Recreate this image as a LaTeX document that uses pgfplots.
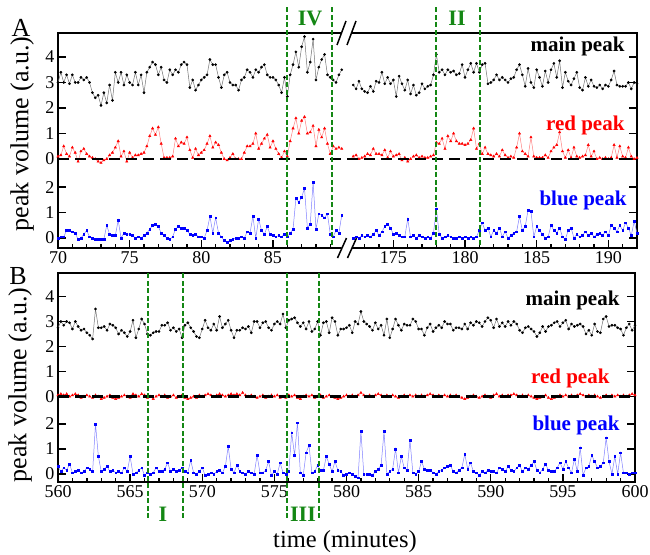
\documentclass[border=0pt]{standalone}
\usepackage{fontspec}
\setmainfont{Liberation Serif}
\usepackage{pgfplots}
\usepackage{pgfplotstable}
\pgfplotsset{compat=1.18}
\definecolor{mygreen}{RGB}{20,135,20}

% t = time (min), m = main peak, r = red peak, b = blue peak
\pgfplotstableread{
t m r b
70.0 3.0 0.1 0.0
70.2 3.4 0.15 0.05
70.4 3.0 0.5 0.05
70.6 3.3 0.2 0.3
70.8 2.95 0.1 0.3
71.0 3.3 0.45 0.25
71.2 3.0 0.25 0.2
71.4 3.0 -0.1 -0.05
71.6 3.2 0.3 0.0
71.8 3.1 0.4 0.15
72.0 3.2 0.2 0.3
72.2 3.0 0.1 0.05
72.4 2.6 0.05 0.0
72.6 2.4 0.0 -0.05
72.8 2.5 -0.1 -0.05
73.0 2.1 -0.15 -0.05
73.2 2.6 -0.05 -0.05
73.4 2.2 0.0 0.5
73.6 2.9 0.15 0.15
73.8 2.3 0.25 0.1
74.0 3.4 0.45 0.1
74.2 3.0 0.7 0.7
74.4 3.4 0.1 0.0
74.6 2.9 0.3 0.2
74.8 3.3 -0.1 0.15
75.0 3.0 0.25 0.15
75.2 2.9 0.05 0.1
75.4 3.4 0.15 0.0
75.6 2.9 0.15 0.05
75.8 3.3 0.2 0.0
76.0 2.6 0.25 0.1
76.2 3.4 0.5 0.2
76.4 3.6 0.9 0.35
76.6 3.8 1.2 0.5
76.8 3.7 0.95 0.55
77.0 3.3 1.25 0.45
77.2 3.6 0.6 0.2
77.4 3.1 0.05 0.1
77.6 3.0 0.05 0.0
77.8 3.5 0.05 -0.05
78.0 3.3 0.1 0.05
78.2 3.5 0.8 0.35
78.4 3.4 0.5 0.45
78.6 3.7 0.65 0.4
78.8 3.8 0.6 0.4
79.0 3.7 0.85 0.3
79.2 2.8 0.35 0.15
79.4 3.1 0.05 0.1
79.6 2.7 0.4 0.15
79.8 2.9 0.15 0.05
80.0 3.1 0.25 0.05
80.2 3.2 0.35 0.0
80.4 3.3 0.6 0.3
80.6 3.9 0.9 0.85
80.8 3.7 0.45 0.2
81.0 3.7 0.65 0.8
81.2 3.2 0.55 0.2
81.4 2.8 0.25 0.05
81.6 3.3 0.0 -0.1
81.8 3.4 -0.05 -0.15
82.0 3.0 0.05 -0.1
82.2 2.9 0.2 -0.05
82.4 2.9 0.0 0.0
82.6 2.7 0.0 0.0
82.8 3.1 0.0 0.05
83.0 3.2 0.25 0.0
83.2 3.5 0.5 0.25
83.4 3.4 0.5 0.2
83.6 3.2 0.6 0.85
83.8 3.5 1.0 0.0
84.0 3.4 0.4 0.75
84.2 3.6 0.6 0.3
84.4 3.7 0.8 0.15
84.6 3.3 0.95 0.45
84.8 3.2 0.45 0.15
85.0 3.2 0.7 0.1
85.2 3.1 0.4 0.05
85.4 2.9 0.2 0.1
85.6 2.6 0.05 0.05
85.8 3.2 0.3 0.15
86.0 2.45 0.1 0.05
86.2 3.3 0.7 0.2
86.4 3.7 1.2 0.35
86.6 4.2 1.6 1.55
86.8 3.6 1.0 1.4
87.0 4.4 1.5 1.6
87.2 4.8 1.65 1.95
87.4 3.4 1.0 0.4
87.6 3.8 1.05 0.55
87.8 4.7 1.3 2.2
88.0 3.1 0.5 0.35
88.2 3.6 1.15 0.95
88.4 3.9 0.85 0.9
88.6 4.1 1.2 0.8
88.8 3.3 0.6 0.95
89.0 3.2 0.2 0.15
89.2 3.1 0.5 0.05
89.4 3.0 0.4 0.3
89.6 3.3 0.45 0.2
89.8 3.5 0.4 0.9
}\tabAleft

\pgfplotstableread{
t m r b
172.2 2.9 0.1 0.0
172.4 2.75 0.15 0.05
172.6 3.05 0.0 0.0
172.8 2.75 0.05 0.1
173.0 2.65 0.1 0.05
173.2 2.6 0.2 0.1
173.4 2.85 0.15 0.05
173.6 2.65 0.4 0.15
173.8 3.05 0.2 0.3
174.0 3.0 0.2 0.1
174.2 3.4 0.15 0.25
174.4 2.95 0.35 0.45
174.6 3.2 0.05 0.55
174.8 2.95 0.3 0.4
175.0 3.1 0.1 0.15
175.2 2.45 0.15 0.2
175.4 3.25 0.2 0.1
175.6 2.95 -0.05 0.05
175.8 2.7 0.05 0.05
176.0 3.1 -0.1 0.75
176.2 2.55 0.0 0.05
176.4 2.9 0.1 0.1
176.6 2.5 0.15 0.0
176.8 2.6 0.05 0.1
177.0 2.95 0.1 0.05
177.2 2.75 0.05 0.0
177.4 2.85 0.05 0.05
177.6 2.9 0.1 0.0
177.8 3.3 0.15 0.2
178.0 4.1 0.65 1.15
178.2 3.4 0.6 0.15
178.4 3.5 0.8 0.0
178.6 3.3 0.4 0.05
178.8 3.5 0.9 0.1
179.0 3.4 0.7 0.05
179.2 3.45 1.0 0.0
179.4 3.3 0.7 0.0
179.6 3.35 0.6 0.05
179.8 3.7 0.6 0.0
180.0 3.2 0.55 0.05
180.2 3.5 0.6 0.0
180.4 3.75 0.75 0.05
180.6 3.4 1.2 0.0
180.8 3.75 0.4 0.05
181.0 3.4 0.6 0.3
181.2 3.7 0.2 0.6
181.4 3.75 0.45 0.3
181.6 2.95 0.2 0.4
181.8 3.0 0.15 0.05
182.0 3.1 0.1 0.3
182.2 3.3 0.2 0.2
182.4 3.1 0.1 0.4
182.6 3.2 0.35 0.05
182.8 3.1 0.15 0.25
183.0 3.0 0.05 0.0
183.2 3.15 0.1 0.1
183.4 3.2 0.05 0.2
183.6 3.5 0.45 0.25
183.8 3.7 1.0 0.85
184.0 3.3 0.3 0.3
184.2 2.85 0.2 0.45
184.4 3.55 0.1 1.1
184.6 3.0 0.85 1.05
184.8 2.8 0.1 0.05
185.0 3.5 0.05 0.45
185.2 3.2 0.05 0.3
185.4 2.85 0.05 0.15
185.6 3.45 0.15 0.0
185.8 3.0 0.05 0.05
186.0 3.5 0.3 0.5
186.2 3.75 0.45 0.3
186.4 3.2 0.55 0.2
186.6 3.85 1.05 0.4
186.8 2.8 0.3 0.05
187.0 3.4 0.05 -0.05
187.2 3.05 0.35 0.3
187.4 2.9 0.05 0.4
187.6 3.15 0.45 0.0
187.8 3.4 0.1 0.15
188.0 2.8 0.05 0.05
188.2 2.7 0.1 0.1
188.4 3.2 0.15 0.25
188.6 2.85 0.55 0.1
188.8 3.1 0.1 0.2
189.0 2.85 0.3 0.05
189.2 2.8 0.0 0.15
189.4 2.9 0.05 0.2
189.6 2.75 0.0 0.1
189.8 2.9 0.05 0.25
190.0 2.85 0.0 0.1
190.2 3.1 0.05 0.5
190.4 3.45 0.55 0.4
190.6 2.9 0.05 0.25
190.8 2.85 0.5 0.5
191.0 2.85 0.1 0.3
191.2 2.85 0.05 0.6
191.4 3.0 0.45 0.4
191.6 2.75 0.1 0.1
191.8 3.0 0.0 0.65
192.0 2.95 0.05 0.2
}\tabAright

\pgfplotstableread{
t m r b
560.0 2.75 0.05 0.3
560.2 3.0 0.1 0.1
560.4 2.85 0.05 0.25
560.6 3.0 0.1 0.15
560.8 2.95 0.0 0.4
561.0 2.7 0.05 0.05
561.2 3.0 0.1 0.1
561.4 2.8 0.05 0.15
561.6 2.65 -0.05 0.05
561.8 2.7 0.0 0.1
562.0 2.55 0.05 0.25
562.2 2.45 0.0 0.2
562.4 2.3 -0.05 0.1
562.6 3.5 0.05 2.0
562.8 2.75 0.0 0.7
563.0 2.75 -0.1 0.1
563.2 2.8 -0.05 0.2
563.4 2.65 0.0 0.3
563.6 2.9 0.05 0.1
563.8 2.85 -0.05 0.15
564.0 2.75 -0.1 0.05
564.2 2.5 -0.05 0.1
564.4 2.65 0.0 0.05
564.6 2.55 0.05 0.25
564.8 2.4 0.0 0.1
565.0 2.6 -0.05 0.7
565.2 3.05 0.1 0.0
565.4 2.35 0.05 0.05
565.6 2.7 0.0 0.15
565.8 3.1 0.1 0.25
566.0 2.9 0.05 -0.05
566.2 2.5 -0.05 0.05
566.4 2.45 0.0 0.0
566.6 2.55 -0.1 0.05
566.8 2.6 0.0 0.25
567.0 2.6 0.05 0.1
567.2 2.85 0.0 0.1
567.4 2.85 0.05 0.2
567.6 2.95 -0.05 0.45
567.8 2.65 0.0 0.1
568.0 2.75 0.05 0.2
568.2 2.6 -0.05 0.1
568.4 2.7 0.0 0.15
568.6 2.35 0.05 0.25
568.8 2.85 -0.05 0.1
569.0 2.95 -0.1 0.05
569.2 2.75 -0.05 0.55
569.4 2.6 0.0 0.05
569.6 2.4 -0.05 0.0
569.8 2.35 0.05 0.1
570.0 2.7 0.0 0.25
570.2 3.05 0.05 -0.05
570.4 2.75 0.1 0.0
570.6 2.65 0.05 0.05
570.8 2.9 0.0 0.0
571.0 2.65 0.05 0.1
571.2 3.2 0.1 0.15
571.4 2.75 0.05 0.05
571.6 2.9 0.0 0.3
571.8 3.05 0.05 1.1
572.0 2.65 0.1 0.2
572.2 2.35 0.05 0.05
572.4 2.65 0.1 0.35
572.6 2.65 0.05 0.1
572.8 2.75 0.15 0.05
573.0 2.7 0.05 0.0
573.2 2.8 0.0 0.1
573.4 2.55 0.05 0.05
573.6 3.0 0.0 0.0
573.8 3.0 -0.05 0.75
574.0 2.75 0.0 0.05
574.2 2.95 0.05 0.05
574.4 3.0 -0.05 0.15
574.6 2.75 0.0 0.5
574.8 2.65 0.05 -0.05
575.0 2.9 0.0 0.1
575.2 3.0 0.05 0.0
575.4 2.9 -0.05 0.45
575.6 3.3 0.0 0.05
575.8 2.75 -0.05 0.0
576.0 3.05 0.05 0.1
576.2 3.1 0.0 1.65
576.4 3.15 0.05 0.75
576.6 2.95 -0.05 2.05
576.8 2.8 -0.1 0.05
577.0 2.95 0.0 -0.05
577.2 2.7 0.05 0.85
577.4 3.0 0.0 1.15
577.6 2.6 0.05 0.05
577.8 2.7 -0.05 0.1
578.0 3.0 0.0 0.35
578.2 2.45 0.05 0.15
578.4 2.95 -0.05 0.15
578.6 3.0 0.0 0.7
578.8 2.55 0.05 0.4
579.0 3.15 0.0 0.1
579.2 3.0 -0.05 0.5
579.4 2.45 -0.1 0.15
579.6 2.7 -0.05 0.1
579.8 2.7 0.0 -0.05
580.0 2.75 0.05 0.0
580.2 2.85 0.0 0.05
580.4 2.55 0.05 0.0
580.6 3.0 0.0 -0.1
580.8 2.9 0.05 -0.15
581.0 3.4 0.15 1.7
581.2 3.0 0.05 0.0
581.4 2.9 0.0 0.0
581.6 2.8 0.05 0.0
581.8 2.65 0.0 -0.05
582.0 2.95 0.05 0.1
582.2 2.7 0.1 0.2
582.4 2.85 0.05 0.35
582.6 2.45 0.0 1.7
582.8 3.1 0.05 0.0
583.0 2.35 0.0 0.1
583.2 2.7 0.05 0.2
583.4 3.1 0.0 1.0
583.6 2.85 -0.05 0.05
583.8 2.65 0.0 0.7
584.0 2.9 0.05 0.25
584.2 2.85 0.0 0.15
584.4 2.85 0.05 1.35
584.6 3.1 0.0 0.05
584.8 3.0 0.05 0.0
585.0 2.7 0.0 0.1
585.2 2.7 0.05 0.5
585.4 2.45 0.0 0.2
585.6 2.75 0.05 0.15
585.8 2.9 0.1 0.15
586.0 2.6 0.05 0.05
586.2 2.75 0.0 0.0
586.4 2.85 0.05 0.1
586.6 2.75 0.0 0.15
586.8 3.0 0.05 0.25
587.0 2.9 0.0 0.3
587.2 2.9 0.05 0.35
587.4 2.65 0.0 0.1
587.6 2.75 0.05 0.05
587.8 2.75 0.0 0.15
588.0 2.7 -0.05 0.25
588.2 2.9 -0.1 0.8
588.4 2.7 -0.05 0.2
588.6 2.95 0.0 0.45
588.8 2.85 0.05 0.1
589.0 3.0 0.0 0.05
589.2 2.95 -0.05 -0.05
589.4 2.8 0.0 0.1
589.6 3.0 0.05 0.05
589.8 3.15 0.0 0.15
590.0 3.05 -0.05 0.1
590.2 2.75 0.05 0.1
590.4 3.1 0.1 0.05
590.6 2.8 0.0 0.25
590.8 2.95 0.05 0.2
591.0 2.8 0.0 0.1
591.2 3.0 0.05 0.3
591.4 2.85 0.05 0.15
591.6 3.0 0.1 0.1
591.8 2.9 0.05 0.25
592.0 2.65 0.0 0.35
592.2 2.55 0.05 0.1
592.4 2.75 0.0 0.25
592.6 2.8 0.05 0.2
592.8 2.7 0.0 0.35
593.0 2.6 -0.05 0.5
593.2 2.4 -0.1 0.15
593.4 2.55 -0.05 0.05
593.6 2.8 0.0 0.2
593.8 2.6 0.05 0.4
594.0 2.8 -0.05 0.15
594.2 2.85 -0.1 0.1
594.4 2.95 -0.05 0.1
594.6 3.0 0.0 0.25
594.8 2.8 0.05 0.45
595.0 2.95 0.0 0.2
595.2 3.05 0.05 0.5
595.4 2.7 0.0 0.25
595.6 2.9 0.05 0.05
595.8 2.8 0.0 0.6
596.0 2.85 0.05 0.1
596.2 2.9 0.1 1.05
596.4 2.8 0.05 -0.05
596.6 2.5 0.0 0.25
596.8 2.65 0.05 0.3
597.0 2.45 0.0 0.75
597.2 2.9 0.05 0.5
597.4 2.6 0.0 0.25
597.6 2.55 -0.05 0.3
597.8 3.1 0.0 0.45
598.0 3.2 0.05 1.45
598.2 2.8 0.0 0.5
598.4 2.85 0.05 0.0
598.6 2.85 0.0 0.7
598.8 2.75 0.05 0.0
599.0 2.7 0.0 0.85
599.2 2.45 0.05 0.05
599.4 2.75 0.0 0.05
599.6 2.9 0.05 0.0
599.8 2.65 0.1 0.05
600.0 2.85 0.05 0.05
}\tabB

\pgfplotsset{
  panel/.style={
    scale only axis, anchor=south west, clip=false,
    axis line style={line width=1.8pt},
    tick style={black, line width=1.3pt},
    major tick length=8pt, minor tick length=4.5pt,
    xtick pos=left,
    ytick={0,1,2,3.1,4.1,5.1,6.1,7.1},
    yticklabels={0,1,2,0,1,2,3,4},
    ticklabel style={font=\fontsize{18}{18}\selectfont},
  },
  mainline/.style={black!55, line width=0.5pt, mark=*, mark size=1.1pt, mark options={black, solid}},
  redline/.style={red!50, line width=0.5pt, mark=triangle*, mark size=1.3pt, mark options={red, solid}},
  blueline/.style={blue!50, line width=0.5pt, mark=square*, mark size=0.9pt, mark options={blue, solid}},
}

\begin{document}
\begin{tikzpicture}[x=1pt,y=1pt]
\path[use as bounding box] (0,0) rectangle (650,-554);

% panel A, broken axis: right part shifted by 81.6 min
\begin{axis}[panel, at={(58pt,-248pt)}, width=579pt, height=215pt,
  xmin=70, xmax=110.4, ymin=-0.39, ymax=8.04,
  xtick={70,75,80,85,93.4,98.4,103.4,108.4},
  xticklabels={70,75,80,85,175,180,185,190},
  minor xtick={71,72,73,74,76,77,78,79,81,82,83,84,86,87,88,89,91.4,92.4,94.4,95.4,96.4,97.4,99.4,100.4,101.4,102.4,104.4,105.4,106.4,107.4,109.4},
]
\addplot[mainline] table[x=t, y expr=\thisrow{m}+3.1] {\tabAleft};
\addplot[mainline] table[x expr=\thisrow{t}-81.6, y expr=\thisrow{m}+3.1] {\tabAright};
\addplot[redline] table[x=t, y expr=\thisrow{r}+3.1] {\tabAleft};
\addplot[redline] table[x expr=\thisrow{t}-81.6, y expr=\thisrow{r}+3.1] {\tabAright};
\addplot[blueline] table[x=t, y=b] {\tabAleft};
\addplot[blueline] table[x expr=\thisrow{t}-81.6, y=b] {\tabAright};
\end{axis}

% axis break marks
\fill[white] (339.6,-38) -- (349.6,-38) -- (353.4,-28) -- (343.4,-28) -- cycle;
\draw[line width=1.5pt] (337,-45) -- (346,-21);
\draw[line width=1.5pt] (347,-45) -- (356,-21);
\fill[white] (339.6,-253) -- (349.6,-253) -- (353.4,-243) -- (343.4,-243) -- cycle;
\draw[line width=1.5pt] (337.5,-258) -- (346.5,-238);
\draw[line width=1.5pt] (347.5,-258) -- (356.5,-238);

% panel B
\begin{axis}[panel, at={(58pt,-482pt)}, width=577pt, height=209pt,
  xmin=560, xmax=600, ymin=-0.32, ymax=8.04,
  xtick={560,565,570,575,580,585,590,595,600},
  xticklabels={560,565,570,575,580,585,590,595,600},
  minor x tick num=4,
]
\addplot[mainline] table[x=t, y expr=\thisrow{m}+3.1] {\tabB};
\addplot[redline] table[x=t, y expr=\thisrow{r}+3.1] {\tabB};
\addplot[blueline] table[x=t, y=b] {\tabB};
\end{axis}

% red-peak zero lines (dashes as small filled bars)
\foreach \x in {58,75,...,630} {
  \fill[black] (\x,-157.8) rectangle ({min(\x+11,636)},-160.4);
  \fill[black] (\x,-395.2) rectangle ({min(\x+11,634)},-398.2);
}
% green interval markers (dashes as small filled bars)
\foreach \x in {286.7,331.6,435.8,479.9} {
  \foreach \y in {-7,-14.5,...,-246} {
    \fill[mygreen] ({\x-0.95},\y) rectangle ({\x+0.95},{max(\y-5,-248)});
  }
}
\foreach \x in {147.8,182.6,286.6,319.1} {
  \foreach \y in {-273,-280.5,...,-520} {
    \fill[mygreen] ({\x-0.95},\y) rectangle ({\x+0.95},{max(\y-5,-522)});
  }
}

% texts
\node[font=\fontsize{26}{26}\selectfont] at (21,-28) {A};
\node[font=\fontsize{26}{26}\selectfont] at (18,-276) {B};
\node[rotate=90, font=\fontsize{26}{26}\selectfont] at (22,-134) {peak volume (a.u.)};
\node[rotate=90, font=\fontsize{26}{26}\selectfont] at (20,-385) {peak volume (a.u.)};
\node[font=\fontsize{24.5}{25}\selectfont] at (345,-542) {time (minutes)};

\begin{scope}[font=\fontsize{21}{21}\selectfont\bfseries]
\node[anchor=east, black] at (628,-46) {main peak};
\node[anchor=east, red] at (628,-125) {red peak};
\node[anchor=east, blue] at (630,-200) {blue peak};
\node[anchor=east, black] at (623,-300) {main peak};
\node[anchor=east, red] at (613,-378) {red peak};
\node[anchor=east, blue] at (623,-425) {blue peak};
\end{scope}

\begin{scope}[font=\fontsize{22}{22}\selectfont\bfseries, mygreen]
\node at (310,-18) {IV};
\node at (457,-18) {II};
\node at (163,-514) {I};
\node at (303,-514) {III};
\end{scope}
\end{tikzpicture}
\end{document}
